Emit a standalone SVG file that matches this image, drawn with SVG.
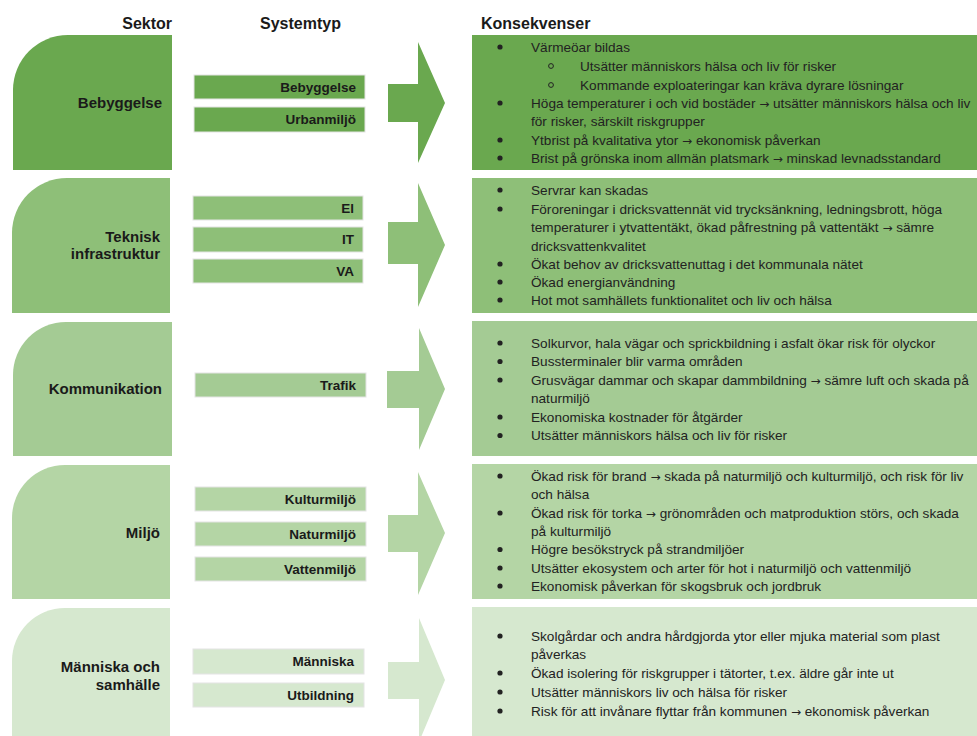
<svg xmlns="http://www.w3.org/2000/svg" width="977" height="736" viewBox="0 0 977 736">
<style>
.hdr{font-family:"Liberation Sans",Arial,sans-serif;font-weight:bold;font-size:16px;fill:#1a1a1a}
.sec{font-family:"Liberation Sans",Arial,sans-serif;font-weight:bold;font-size:15px;fill:#1a1a1a;text-anchor:end}
.sys{font-family:"Liberation Sans",Arial,sans-serif;font-weight:bold;font-size:13.5px;fill:#1a1a1a;text-anchor:end}
.txt{font-family:"Liberation Sans",Arial,sans-serif;font-size:13.6px;fill:#222}
.ar{font-family:"DejaVu Sans",sans-serif;font-size:12px}
.box{stroke:#e4e4e4;stroke-width:1}
.b{fill:#222}
.sb{fill:none;stroke:#222;stroke-width:1}
.c1{fill:#6aa84f}.c2{fill:#8ebf78}.c3{fill:#a4cb94}.c4{fill:#b4d5a5}.c5{fill:#d6e8cf}
</style>
<rect width="977" height="736" fill="#ffffff"/>
<g id="headers">
<text class="hdr" x="172" y="29" text-anchor="end">Sektor</text>
<text class="hdr" x="260" y="29">Systemtyp</text>
<text class="hdr" x="481" y="29">Konsekvenser</text>
</g>

<!-- Row 1 -->
<g id="sektor-bebyggelse">
<path class="c1" d="M13,170 L13,90 A55,55 0 0 1 68,35 L172,35 L172,170 Z"/>
<text class="sec" x="162" y="108">Bebyggelse</text>
</g>
<g id="sys-bebyggelse">
<rect class="c1 box" x="194" y="75" width="171" height="24"/>
<text class="sys" x="356" y="92">Bebyggelse</text>
</g>
<g id="sys-urbanmiljo">
<rect class="c1 box" x="194" y="107" width="171" height="25"/>
<text class="sys" x="356" y="124">Urbanmiljö</text>
</g>
<g id="kons-bebyggelse">
<rect class="c1" x="472" y="35" width="510" height="135"/>
<circle class="b" cx="500" cy="47" r="2.6"/>
<text class="txt" x="531" y="51.5">Värmeöar bildas</text>
<circle class="sb" cx="551" cy="66" r="2.4"/>
<text class="txt" x="580" y="70.5">Utsätter människors hälsa och liv för risker</text>
<circle class="sb" cx="551" cy="85" r="2.4"/>
<text class="txt" x="580" y="89.5">Kommande exploateringar kan kräva dyrare lösningar</text>
<circle class="b" cx="500" cy="103" r="2.6"/>
<text class="txt" x="531" y="108">Höga temperaturer i och vid bostäder <tspan class="ar">→</tspan> utsätter människors hälsa och liv</text>
<text class="txt" x="531" y="126">för risker, särskilt riskgrupper</text>
<circle class="b" cx="500" cy="140" r="2.6"/>
<text class="txt" x="531" y="144.5">Ytbrist på kvalitativa ytor <tspan class="ar">→</tspan> ekonomisk påverkan</text>
<circle class="b" cx="500" cy="158" r="2.6"/>
<text class="txt" x="531" y="163">Brist på grönska inom allmän platsmark <tspan class="ar">→</tspan> minskad levnadsstandard</text>
</g>

<!-- Row 2 -->
<g id="sektor-teknisk">
<path class="c2" d="M12,313 L12,233 A55,55 0 0 1 67,178 L170,178 L170,313 Z"/>
<text class="sec" x="160" y="242">Teknisk</text>
<text class="sec" x="160" y="259">infrastruktur</text>
</g>
<g id="sys-el">
<rect class="c2 box" x="193" y="196" width="170" height="24"/>
<text class="sys" x="354" y="213">El</text>
</g>
<g id="sys-it">
<rect class="c2 box" x="193" y="227" width="170" height="25"/>
<text class="sys" x="354" y="244">IT</text>
</g>
<g id="sys-va">
<rect class="c2 box" x="193" y="259" width="170" height="24"/>
<text class="sys" x="354" y="276">VA</text>
</g>
<g id="kons-teknisk">
<rect class="c2" x="472" y="178" width="510" height="135"/>
<circle class="b" cx="500" cy="190" r="2.6"/>
<text class="txt" x="531" y="194.5">Servrar kan skadas</text>
<circle class="b" cx="500" cy="209" r="2.6"/>
<text class="txt" x="531" y="213.5">Föroreningar i dricksvattennät vid trycksänkning, ledningsbrott, höga</text>
<text class="txt" x="531" y="232">temperaturer i ytvattentäkt, ökad påfrestning på vattentäkt <tspan class="ar">→</tspan> sämre</text>
<text class="txt" x="531" y="250.5">dricksvattenkvalitet</text>
<circle class="b" cx="500" cy="264" r="2.6"/>
<text class="txt" x="531" y="268.5">Ökat behov av dricksvattenuttag i det kommunala nätet</text>
<circle class="b" cx="500" cy="282" r="2.6"/>
<text class="txt" x="531" y="286.5">Ökad energianvändning</text>
<circle class="b" cx="500" cy="300" r="2.6"/>
<text class="txt" x="531" y="304.5">Hot mot samhällets funktionalitet och liv och hälsa</text>
</g>

<!-- Row 3 -->
<g id="sektor-kommunikation">
<path class="c3" d="M13,456 L13,375 A53,53 0 0 1 66,322 L172,322 L172,456 Z"/>
<text class="sec" x="162" y="394">Kommunikation</text>
</g>
<g id="sys-trafik">
<rect class="c3 box" x="195" y="373" width="171" height="24"/>
<text class="sys" x="356" y="390">Trafik</text>
</g>
<g id="kons-kommunikation">
<rect class="c3" x="472" y="321" width="510" height="135"/>
<circle class="b" cx="500" cy="343" r="2.6"/>
<text class="txt" x="531" y="347.5">Solkurvor, hala vägar och sprickbildning i asfalt ökar risk för olyckor</text>
<circle class="b" cx="500" cy="361.5" r="2.6"/>
<text class="txt" x="531" y="366">Bussterminaler blir varma områden</text>
<circle class="b" cx="500" cy="380" r="2.6"/>
<text class="txt" x="531" y="384.5">Grusvägar dammar och skapar dammbildning <tspan class="ar">→</tspan> sämre luft och skada på</text>
<text class="txt" x="531" y="403">naturmiljö</text>
<circle class="b" cx="500" cy="417" r="2.6"/>
<text class="txt" x="531" y="421.5">Ekonomiska kostnader för åtgärder</text>
<circle class="b" cx="500" cy="435.5" r="2.6"/>
<text class="txt" x="531" y="440">Utsätter människors hälsa och liv för risker</text>
</g>

<!-- Row 4 -->
<g id="sektor-miljo">
<path class="c4" d="M12,599 L12,518 A53,53 0 0 1 65,465 L170,465 L170,599 Z"/>
<text class="sec" x="160" y="538">Miljö</text>
</g>
<g id="sys-kulturmiljo">
<rect class="c4 box" x="195" y="487" width="171" height="24"/>
<text class="sys" x="356" y="504">Kulturmiljö</text>
</g>
<g id="sys-naturmiljo">
<rect class="c4 box" x="195" y="522" width="171" height="24"/>
<text class="sys" x="356" y="539">Naturmiljö</text>
</g>
<g id="sys-vattenmiljo">
<rect class="c4 box" x="195" y="557" width="171" height="24"/>
<text class="sys" x="356" y="574">Vattenmiljö</text>
</g>
<g id="kons-miljo">
<rect class="c4" x="472" y="464" width="510" height="135"/>
<circle class="b" cx="500" cy="476" r="2.6"/>
<text class="txt" x="531" y="480.5">Ökad risk för brand <tspan class="ar">→</tspan> skada på naturmiljö och kulturmiljö, och risk för liv</text>
<text class="txt" x="531" y="499">och hälsa</text>
<circle class="b" cx="500" cy="513" r="2.6"/>
<text class="txt" x="531" y="517.5">Ökad risk för torka <tspan class="ar">→</tspan> grönområden och matproduktion störs, och skada</text>
<text class="txt" x="531" y="535.5">på kulturmiljö</text>
<circle class="b" cx="500" cy="549.5" r="2.6"/>
<text class="txt" x="531" y="554">Högre besökstryck på strandmiljöer</text>
<circle class="b" cx="500" cy="568" r="2.6"/>
<text class="txt" x="531" y="572.5">Utsätter ekosystem och arter för hot i naturmiljö och vattenmiljö</text>
<circle class="b" cx="500" cy="586" r="2.6"/>
<text class="txt" x="531" y="590.5">Ekonomisk påverkan för skogsbruk och jordbruk</text>
</g>

<!-- Row 5 -->
<g id="sektor-manniska">
<path class="c5" d="M12,740 L12,661 A53,53 0 0 1 65,608 L170,608 L170,740 Z"/>
<text class="sec" x="160" y="672">Människa och</text>
<text class="sec" x="160" y="690">samhälle</text>
</g>
<g id="sys-manniska">
<rect class="c5 box" x="193" y="649" width="171" height="25"/>
<text class="sys" x="354" y="666">Människa</text>
</g>
<g id="sys-utbildning">
<rect class="c5 box" x="193" y="683" width="171" height="24"/>
<text class="sys" x="354" y="700">Utbildning</text>
</g>
<g id="kons-manniska">
<rect class="c5" x="472" y="607" width="510" height="135"/>
<circle class="b" cx="500" cy="636" r="2.6"/>
<text class="txt" x="531" y="640.5">Skolgårdar och andra hårdgjorda ytor eller mjuka material som plast</text>
<text class="txt" x="531" y="659">påverkas</text>
<circle class="b" cx="500" cy="673" r="2.6"/>
<text class="txt" x="531" y="677.5">Ökad isolering för riskgrupper i tätorter, t.ex. äldre går inte ut</text>
<circle class="b" cx="500" cy="692" r="2.6"/>
<text class="txt" x="531" y="696.5">Utsätter människors liv och hälsa för risker</text>
<circle class="b" cx="500" cy="711" r="2.6"/>
<text class="txt" x="531" y="715.5">Risk för att invånare flyttar från kommunen <tspan class="ar">→</tspan> ekonomisk påverkan</text>
</g>

<g id="connectors">
<polygon class="c1" points="388,84 418,84 418,42 445,103 418,163 418,122 388,122"/>
<polygon class="c2" points="388,222 418,222 418,183 445,245 418,307 418,264 388,264"/>
<polygon class="c3" points="387,371 419,371 419,328 445,389 419,450 419,408 387,408"/>
<polygon class="c4" points="388,515 418,515 418,472 445,533 418,595 418,552 388,552"/>
<polygon class="c5" points="388,662 419,662 419,618 445,680 419,742 419,699 388,699"/>
</g>
</svg>
